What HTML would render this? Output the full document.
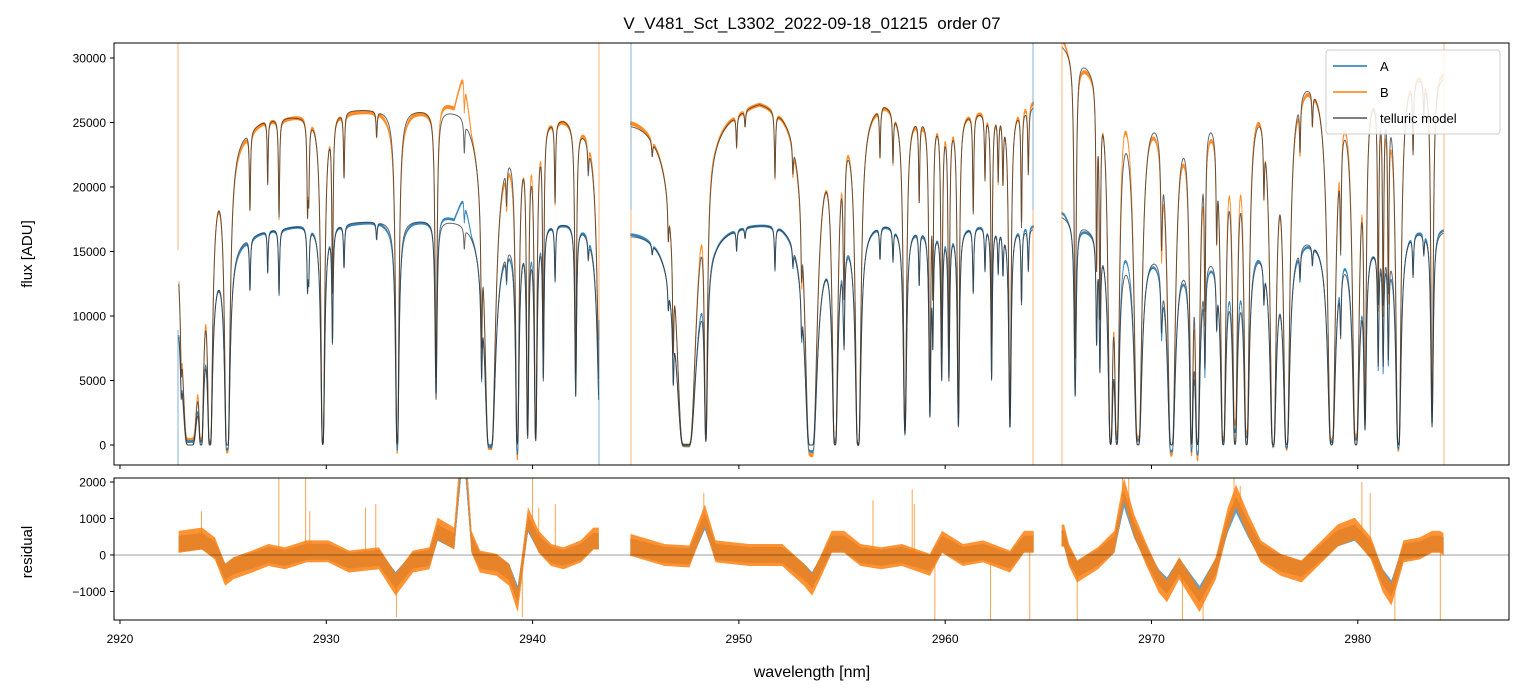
<!DOCTYPE html>
<html><head><meta charset="utf-8">
<style>
html,body{margin:0;padding:0;background:#fff;}
svg{display:block;font-family:"Liberation Sans","DejaVu Sans",sans-serif;}
</style></head>
<body>
<svg id="chart" width="1523" height="696" viewBox="0 0 1523 696" xmlns="http://www.w3.org/2000/svg">
<defs>
<clipPath id="clipTop"><rect x="114" y="43" width="1395" height="422"/></clipPath>
<clipPath id="clipBot"><rect x="114" y="478" width="1395" height="142"/></clipPath>
</defs>
<rect width="1523" height="696" fill="#fff"/>
<text x="812" y="29" font-size="17" text-anchor="middle" fill="#000" style="white-space:pre">V_V481_Sct_L3302_2022-09-18_01215  order 07</text>
<g id="topPlot" clip-path="url(#clipTop)"></g>
<g id="botPlot" clip-path="url(#clipBot)"></g>
<g id="axes"></g>
<rect x="114" y="43" width="1395" height="422" fill="none" stroke="#000" stroke-width="1"/>
<rect x="114" y="478" width="1395" height="142" fill="none" stroke="#000" stroke-width="1"/>
<text transform="translate(32,254) rotate(-90)" font-size="15" text-anchor="middle">flux [ADU]</text>
<text transform="translate(32,552) rotate(-90)" font-size="15" text-anchor="middle">residual</text>
<text x="812" y="677" font-size="16" text-anchor="middle">wavelength [nm]</text>
<g id="legend">
<rect x="1326" y="50" width="174" height="84" rx="3" fill="#fff" fill-opacity="0.85" stroke="#ccc"/>
<line x1="1333" y1="66" x2="1367" y2="66" stroke="#1f77b4" stroke-width="1.5"/>
<text x="1380" y="71" font-size="13">A</text>
<line x1="1333" y1="92" x2="1367" y2="92" stroke="#ff7f0e" stroke-width="1.5"/>
<text x="1380" y="97" font-size="13">B</text>
<line x1="1333" y1="118" x2="1367" y2="118" stroke="#555" stroke-width="1.5"/>
<text x="1380" y="123" font-size="13">telluric model</text>
</g>
</svg>
<script>
// ---- data ----
const segStart=[2922.85,2944.75,2965.65];
const segEnd=[2943.2,2964.28,2984.15];
const contBx=[2922.85,2925,2927,2929,2931,2933,2935,2936.5,2938.5,2940,2941.5,2943.2,
 2944.75,2946,2948.5,2950,2951,2952.5,2954,2956,2957,2958,2960,2962,2964.3,
 2965.65,2966.8,2968.7,2970,2972,2973,2975,2977.5,2979,2981,2982.5,2984.15];
const contBy=[25000,25000,25800,25900,26300,26300,26400,26600,25000,25800,26000,25000,
 26000,26000,26500,27000,27500,26800,26500,26700,27300,26200,26000,26200,26600,
 31500,30500,28500,28000,27800,28000,28500,29700,29500,29000,29500,29000];
const contAx=[2922.85,2925,2927,2929,2933,2936.5,2938.5,2940,2942,2943.2,
 2944.75,2947,2950,2952,2954,2957,2958,2960,2962,2964.3,
 2965.65,2967,2969,2971,2973,2975,2977.5,2979,2981,2982.5,2984.15];
const contAy=[16800,16500,17000,17300,17600,17800,17200,17500,17700,17000,
 17000,17300,17600,17800,17300,17600,17300,17000,17200,17000,
 18000,17300,16500,16000,16000,16300,16800,16500,16200,17000,16800];
const lineC=[2922.97,2923.4,2923.93,2924.36,2925.2,2926.3,2927.16,2927.71,2929.09,2929.15,2929.83,2930.3,2930.86,2932.44,2933.44,2935.32,2936.69,2937.53,2937.94,2938.74,2939.26,2939.76,2940.15,2940.52,2941.09,2942.09,2942.7,2943.3,
 2945.8,2946.58,2946.82,2947.45,2948.4,2949.89,2950.3,2951.75,2952.62,2953.04,2953.5,2954.66,2955.06,2955.1,2955.78,2956.84,2957.47,2958.05,2958.74,2959.26,2959.4,2959.83,2960.18,2960.64,2961.36,2961.93,2962.25,2962.57,2962.8,2963.14,2963.7,2964.03,
 2966.3,2967.34,2967.5,2968.02,2968.32,2969.35,2970.49,2970.97,2971.94,2972.23,2972.59,2973.16,2973.48,2974.05,2974.61,2975.45,2975.9,2976.55,2977.2,2977.8,2978.73,2979.17,2979.91,2980.35,2980.99,2981.23,2981.48,2981.97,2982.68,2983.2,2983.6];
const lineTau=[0.5,20,10,10,15,0.29,0.22,0.36,0.31,0.25,6,0.75,0.22,0.08,5,1.6,0.1,0.8,15,0.15,5,3.5,4,1.2,0.29,1.5,0.1,4,
 0.05,0.16,0.7,25,4,0.1,0.05,0.22,0.1,0.29,15,8,0.2,0.6,8,0.16,0.16,3,0.29,2,0.7,1.2,1.2,2.5,0.36,0.22,1.2,0.22,0.22,2.5,0.43,0.22,
 1.5,0.7,1.0,6,6,8,0.4,8,5,6,0.8,0.35,7,6,7,0.22,7,7,0.16,0.1,8,0.43,8,2.5,0.9,0.9,0.8,7,0.22,0.1,2.5];
const lineW=[0.03,0.1,0.04,0.04,0.035,0.03,0.025,0.03,0.03,0.03,0.04,0.03,0.03,0.03,0.04,0.04,0.03,0.03,0.07,0.03,0.04,0.03,0.035,0.03,0.03,0.035,0.03,0.08,
 0.03,0.03,0.03,0.1,0.04,0.03,0.03,0.03,0.03,0.03,0.08,0.05,0.03,0.03,0.05,0.03,0.03,0.05,0.03,0.035,0.03,0.035,0.035,0.035,0.03,0.03,0.03,0.03,0.03,0.04,0.03,0.03,
 0.04,0.03,0.03,0.05,0.05,0.07,0.04,0.07,0.04,0.05,0.03,0.03,0.05,0.05,0.05,0.03,0.06,0.06,0.03,0.03,0.07,0.03,0.06,0.04,0.03,0.03,0.03,0.05,0.03,0.03,0.04];
const residX=[2922.86,2923.97,2924.6,2925.1,2925.5,2926.4,2927.2,2928,2929.04,2930.1,2931.1,2932.55,2933.36,2934.2,2935.0,2935.4,2936.2,2936.65,2937.04,2937.45,2938.26,2938.86,2939.28,2939.78,2940.3,2940.9,2941.5,2942.34,2942.95,2943.2,
 2944.79,2946.4,2947.6,2948.35,2948.87,2950.5,2952.1,2953.16,2953.55,2953.93,2954.5,2955.1,2955.9,2956.9,2957.9,2959.26,2959.85,2960.86,2961.84,2963.14,2963.82,2964.28,
 2965.76,2966.0,2966.4,2967.4,2968.2,2968.67,2969.16,2969.76,2970.35,2970.75,2971.34,2972.33,2973.12,2973.7,2974.1,2974.7,2975.3,2976.27,2977.27,2978.26,2979.04,2979.85,2980.64,2981.22,2981.63,2982.22,2983.0,2983.6,2983.98,2984.15];
const residY=[360,450,180,-540,-360,-180,0,-90,100,100,-180,-90,-810,-180,-90,720,450,3600,360,-180,-270,-540,-1260,1000,360,0,-90,100,450,450,
 270,0,-40,1080,100,0,0,-540,-810,-360,360,360,0,-90,0,-270,360,0,100,-180,360,360,
 540,0,-450,-90,360,1800,810,0,-720,-990,-360,-1260,-360,990,1620,810,100,-270,-450,100,540,720,180,-720,-1080,100,180,360,360,300];
const spikeX=[2923.95,2927.7,2929.0,2929.2,2931.9,2932.4,2936.4,2940.0,2940.3,2941.1,2948.3,2956.5,2958.4,2958.5,2968.6,2968.9,2974.0,2974.3,2980.2,2980.6,2933.4,2939.5,2959.5,2962.2,2964.1,2966.4,2971.5,2972.5,2981.8,2984.0];
const spikeY=[1200,2100,2100,1200,1300,1400,1500,2100,1300,1400,1700,1500,1800,1400,2100,2100,2100,1900,2000,1700,-1700,-1700,-1800,-1800,-1800,-1800,-1800,-1800,-1800,-1800];
const yTicksTop=[0,5000,10000,15000,20000,25000,30000];
const yTicksBot=[-1000,0,1000,2000];
const xTicks=[2920,2930,2940,2950,2960,2970,2980];
// ---- scales ----
const xS=l=>114+(l-2919.71)*20.63;
const yT=v=>445-v*0.0129;
const yR=v=>555-v*0.0365;
const NS='http://www.w3.org/2000/svg';
function interp(xs,ys,l){
  if(l<=xs[0])return ys[0];
  for(let i=1;i<xs.length;i++){ if(l<=xs[i]){const f=(l-xs[i-1])/(xs[i]-xs[i-1]);return ys[i-1]+f*(ys[i]-ys[i-1]);} }
  return ys[ys.length-1];
}
function trans(l){let t=0;for(let i=0;i<lineC.length;i++){const x=(l-lineC[i])/lineW[i];t+=lineTau[i]/(1+x*x);}return Math.exp(-t);}
function mk(parent,tag,attrs){const e=document.createElementNS(NS,tag);for(const k in attrs)e.setAttribute(k,attrs[k]);parent.appendChild(e);return e;}
const topG=document.getElementById('topPlot'), botG=document.getElementById('botPlot'), axG=document.getElementById('axes');
const step=0.01;
const series={a:[],b:[],ma:[],mb:[],ra:[],rb:[]};
for(let s=0;s<segStart.length;s++){
  const pa=[],pb=[],pma=[],pmb=[],pra=[],prb=[];
  let k=0;
  for(let l=segStart[s];l<=segEnd[s]+1e-9;l+=step,k++){
    const T=trans(l), cb=interp(contBx,contBy,l), ca=interp(contAx,contAy,l), r=interp(residX,residY,l);
    const j=(k%2?1:-1);
    const mb=cb*T, ma=ca*T;
    const x=xS(l).toFixed(2);
    pmb.push(x+','+yT(mb).toFixed(2)); pma.push(x+','+yT(ma).toFixed(2));
    pb.push(x+','+yT(mb+r+j*150).toFixed(2)); pa.push(x+','+yT(ma+0.65*r+j*100).toFixed(2));
    prb.push(x+','+yR(r+j*300).toFixed(2)); pra.push(x+','+yR(0.85*r-j*220).toFixed(2));
  }
  series.a.push(pa);series.b.push(pb);series.ma.push(pma);series.mb.push(pmb);series.ra.push(pra);series.rb.push(prb);
}
function draw(parent,arr,color,w,op,name){
  arr.forEach(pts=>{
    const e=mk(parent,'polyline',{points:pts.join(' '),fill:'none',stroke:color,'stroke-width':w,'stroke-opacity':op});
    
    
  });
}
draw(topG,series.b,'#ff7f0e',0.9,0.9,'series-b-line');
draw(topG,series.a,'#1f77b4',0.9,0.9,'series-a-line');
draw(topG,series.mb,'#333',1,0.75,'telluric-model-b-line');
draw(topG,series.ma,'#333',1,0.75,'telluric-model-a-line');
const edges=[[178,43,250,'#ff7f0e'],[178,330,465,'#1f77b4'],[599,43,340,'#ff7f0e'],[599,320,465,'#1f77b4'],[631,43,210,'#1f77b4'],[631,210,465,'#ff7f0e'],[1033,43,210,'#1f77b4'],[1033,210,465,'#ff7f0e'],[1062,43,465,'#ff7f0e'],[1444,43,465,'#ff7f0e']];
edges.forEach(e=>{const l=mk(topG,'line',{x1:e[0],x2:e[0],y1:e[1],y2:e[2],stroke:e[3],'stroke-width':0.8,'stroke-opacity':0.7});
  
  });
draw(botG,series.ra,'#1f77b4',0.6,0.7,'residual-a-line');
draw(botG,series.rb,'#ff7f0e',0.6,0.85,'residual-b-line');
for(let i=0;i<spikeX.length;i++){
  const x=xS(spikeX[i]);
  const s=mk(botG,'line',{x1:x,x2:x,y1:yR(interp(residX,residY,spikeX[i])),y2:yR(spikeY[i]),stroke:'#ff7f0e','stroke-width':0.9,'stroke-opacity':0.8});
  
  
}
const zl=mk(botG,'line',{x1:114,x2:1509,y1:yR(0),y2:yR(0),stroke:'#000','stroke-width':0.8,'stroke-opacity':0.5});


document.getElementById('chart').appendChild(document.getElementById('legend'));
yTicksTop.forEach(v=>{const y=yT(v);
  const t=mk(axG,'line',{x1:110,x2:114,y1:y,y2:y,stroke:'#000'});
  
  
  const tx=mk(axG,'text',{x:106,y:y+4.5,'font-size':12,'text-anchor':'end'});tx.textContent=v;
  
  });
yTicksBot.forEach(v=>{const y=yR(v);
  const t=mk(axG,'line',{x1:110,x2:114,y1:y,y2:y,stroke:'#000'});
  
  
  const tx=mk(axG,'text',{x:106,y:y+4.5,'font-size':12,'text-anchor':'end'});tx.textContent=(v<0?'\u2212'+(-v):v);
  
  });
xTicks.forEach(v=>{const x=xS(v);
  const t1=mk(axG,'line',{x1:x,x2:x,y1:465,y2:469,stroke:'#000'});
  
  
  const t2=mk(axG,'line',{x1:x,x2:x,y1:620,y2:624,stroke:'#000'});
  
  
  const tx=mk(axG,'text',{x:x,y:643,'font-size':12,'text-anchor':'middle'});tx.textContent=v;
  
  });
</script>
</body></html>
